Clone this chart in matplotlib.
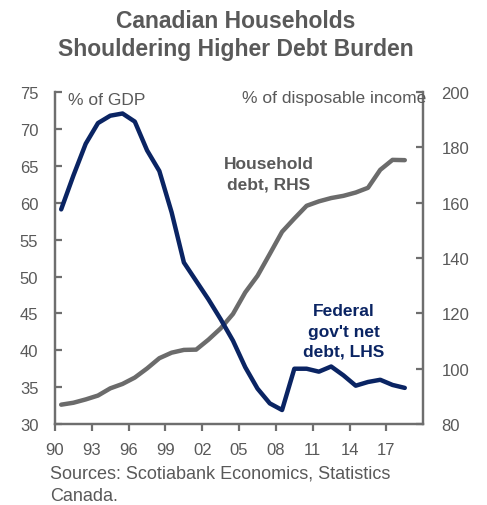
import matplotlib
matplotlib.use("Agg")
import matplotlib.pyplot as plt
import numpy as np

plt.rcParams["font.family"] = ["Liberation Sans", "DejaVu Sans"]

# Annual data, 1990-2018
years = list(range(1990, 2019))
federal_net_debt = [59.1, 63.7, 68.0, 70.8, 71.8, 72.1, 71.0, 67.1, 64.3, 58.7,
                    51.9, 49.4, 46.9, 44.2, 41.3, 37.7, 34.8, 32.8, 31.9, 37.5,
                    37.5, 37.1, 37.8, 36.6, 35.2, 35.7, 36.0, 35.3, 34.9]
household_debt = [87.0, 87.7, 88.9, 90.3, 92.9, 94.5, 96.8, 100.1, 103.8, 105.8,
                  106.8, 106.9, 110.5, 114.6, 119.8, 127.6, 133.6, 141.5, 149.5, 154.3,
                  158.9, 160.5, 161.7, 162.5, 163.7, 165.4, 171.9, 175.5, 175.4]
tick_years = list(range(1990, 2018, 3))
tick_labels = [f"{y % 100:02d}" for y in tick_years]

NAVY = "#0a2463"
GRAY_LINE = "#6b6b6b"
TEXT = "#595959"
SPINE = "#6e6e6e"

fig = plt.figure(figsize=(4.87, 5.06), dpi=100)
ax = fig.add_axes([0.113, 0.160, 0.756, 0.656])
ax2 = ax.twinx()

# points sit mid-year, like a category axis
x = np.array(years) + 0.5
ax2.plot(x, household_debt, color=GRAY_LINE, lw=3.2, solid_capstyle="round", zorder=2)
ax.plot(x, federal_net_debt, color=NAVY, lw=3.2, solid_capstyle="round", zorder=3)
ax.set_zorder(ax2.get_zorder() + 1)
ax.patch.set_visible(False)

ax.set_xlim(1990, 2020)
ax.set_ylim(30, 75)
ax2.set_ylim(80, 200)
ax.set_yticks(range(30, 80, 5))
ax2.set_yticks(range(80, 220, 20))
ax.set_xticks(tick_years)
ax.set_xticklabels(tick_labels)

for a in (ax, ax2):
    a.spines["top"].set_visible(False)
    for side in ("left", "right", "bottom"):
        a.spines[side].set_color(SPINE)
        a.spines[side].set_linewidth(1.6)

ax.tick_params(axis="y", direction="in", length=5, width=1.6, color=SPINE,
               labelcolor=TEXT, labelsize=12, pad=12)
ax2.tick_params(axis="y", direction="in", length=5, width=1.6, color=SPINE,
                labelcolor=TEXT, labelsize=12, pad=13)
ax.tick_params(axis="x", direction="out", length=5, width=1.6, color=SPINE,
               labelcolor=TEXT, labelsize=12, pad=8)

ax.text(0.035, 0.977, "% of GDP", transform=ax.transAxes, color=TEXT,
        fontsize=12.5, ha="left", va="center")
ax.text(1.008, 0.985, "% of disposable income", transform=ax.transAxes, color=TEXT,
        fontsize=12.5, ha="right", va="center")
ax.text(0.58, 0.755, "Household\ndebt, RHS", transform=ax.transAxes, color=TEXT,
        fontsize=12.5, fontweight="bold", ha="center", va="center", linespacing=1.45)
ax.text(0.785, 0.28, "Federal\ngov't net\ndebt, LHS", transform=ax.transAxes, color=NAVY,
        fontsize=12.5, fontweight="bold", ha="center", va="center", linespacing=1.45)

fig.text(0.484, 0.93, "Canadian Households\nShouldering Higher Debt Burden",
         color=TEXT, fontsize=16.5, fontweight="bold", ha="center", va="center",
         linespacing=1.25)
fig.text(0.103, 0.041, "Sources: Scotiabank Economics, Statistics\nCanada.",
         color=TEXT, fontsize=13, ha="left", va="center", linespacing=1.35)

fig.savefig("out.png", dpi=100)
